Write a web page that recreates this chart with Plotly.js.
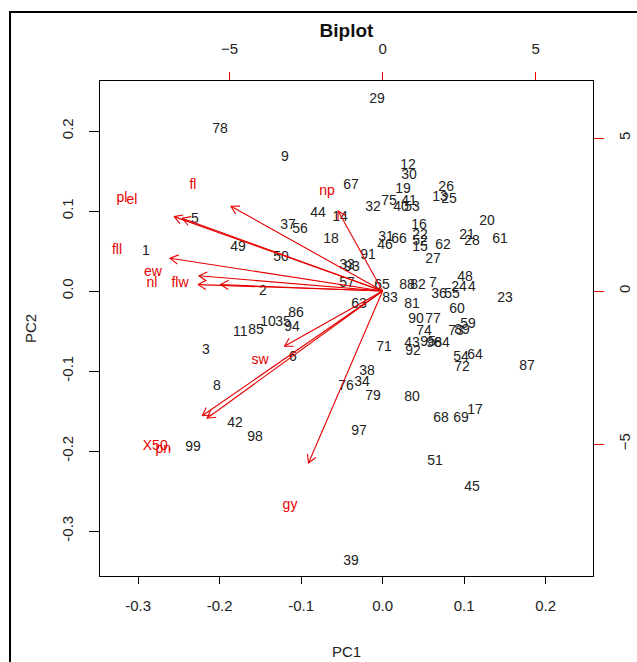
<!DOCTYPE html>
<html>
<head>
<meta charset="utf-8">
<script src="https://cdn.plot.ly/plotly-3.0.1.min.js"></script>
<style>
  html, body { margin: 0; padding: 0; background: #fff; }
  #frame { position: absolute; left: 9px; top: 11px; width: 700px; height: 700px; border: 2px solid #000; }
  #chart { position: absolute; left: 0; top: 0; width: 637px; height: 662px; }
</style>
</head>
<body>
<div id="frame"></div>
<div id="chart"></div>
<script>
// Observation scores (PC1, PC2) with their row labels
const obsLabels = ["29","78","9","12","30","67","19","26","13","25","32","75","41","40","53","44","14","37","56","18","20","16","31","66","22","52","46","15","62","21","28","61","27","49","50","1","91","33","93","57","65","83","63","2","88","82","7","48","24","4","36","55","23","81","60","90","77","74","59","73","89","71","43","95","96","84","92","54","64","72","87","38","34","76","79","80","17","68","69","97","51","45","39","42","98","99","3","8","11","85","10","35","86","94","6","5"];
const pc1 = [-0.0069,-0.1993,-0.1198,0.0312,0.0324,-0.0388,0.0250,0.0780,0.0704,0.0815,-0.0118,0.0079,0.0324,0.0226,0.0361,-0.0793,-0.0523,-0.1161,-0.1013,-0.0633,0.1281,0.0447,0.0042,0.0201,0.0459,0.0459,0.0029,0.0459,0.0741,0.1036,0.1097,0.1440,0.0618,-0.1774,-0.1247,-0.2903,-0.0179,-0.0437,-0.0375,-0.0437,-0.0007,0.0091,-0.0290,-0.1467,0.0299,0.0434,0.0618,0.1011,0.0937,0.1097,0.0692,0.0852,0.1502,0.0361,0.0913,0.0410,0.0618,0.0508,0.1048,0.0901,0.0974,0.0017,0.0361,0.0557,0.0631,0.0729,0.0373,0.0962,0.1134,0.0974,0.1772,-0.0191,-0.0253,-0.0449,-0.0118,0.0361,0.1134,0.0717,0.0962,-0.0290,0.0643,0.1097,-0.0388,-0.1811,-0.1566,-0.2326,-0.2167,-0.2032,-0.1747,-0.1553,-0.1406,-0.1222,-0.1063,-0.1112,-0.1099,-0.2302];
const pc2 = [0.2388,0.2025,0.1663,0.1563,0.1450,0.1313,0.1263,0.1300,0.1163,0.1138,0.1038,0.1113,0.1113,0.1038,0.1038,0.0963,0.0925,0.0813,0.0763,0.0650,0.0875,0.0825,0.0675,0.0638,0.0700,0.0625,0.0563,0.0550,0.0575,0.0700,0.0613,0.0638,0.0400,0.0538,0.0425,0.0488,0.0450,0.0313,0.0300,0.0088,0.0063,-0.0088,-0.0163,0.0000,0.0063,0.0063,0.0088,0.0175,0.0038,0.0050,-0.0038,-0.0038,-0.0088,-0.0163,-0.0225,-0.0350,-0.0350,-0.0500,-0.0413,-0.0500,-0.0488,-0.0700,-0.0650,-0.0638,-0.0650,-0.0650,-0.0750,-0.0825,-0.0800,-0.0950,-0.0938,-0.1000,-0.1138,-0.1188,-0.1313,-0.1325,-0.1488,-0.1588,-0.1588,-0.1750,-0.2125,-0.2450,-0.3375,-0.1650,-0.1825,-0.1950,-0.0738,-0.1188,-0.0513,-0.0488,-0.0388,-0.0388,-0.0275,-0.0450,-0.0825,0.0888];

// Variable loadings (secondary axes)
const varLabels = ["fl","pl","el","np","fll","ew","nl","flw","sw","X50.","pn","gy"];
const load1 = [-6.196,-8.516,-8.190,-1.817,-8.680,-7.503,-7.536,-6.621,-4.007,-7.366,-7.170,-3.026];
const load2 = [3.464,3.039,2.974,3.268,1.340,0.621,0.261,0.261,-2.255,-5.098,-5.196,-7.026];

// Axis ticks
const pcTicks = [-0.3,-0.2,-0.1,0.0,0.1,0.2];
const pcTickText = ["-0.3","-0.2","-0.1","0.0","0.1","0.2"];
const pc2Ticks = [-0.3,-0.2,-0.1,0.0,0.1,0.2];
const pc2TickText = ["-0.3","-0.2","-0.1","0.0","0.1","0.2"];
const loadTicks = [-5,0,5];

const FONT = "Liberation Sans, Arial, sans-serif";
const RED = "#e60000";

// arrows (R biplot draws to 0.8 * loading, label at loading)
const ax = [], ay = [];
const HEAD = 0.3, ANG = Math.PI / 6;
for (let i = 0; i < load1.length; i++) {
  const tx = 0.8 * load1[i], ty = 0.8 * load2[i];
  const len = Math.hypot(tx, ty);
  const bx = -tx / len, by = -ty / len;
  const h = [];
  for (const s of [1, -1]) {
    const c = Math.cos(s * ANG), sn = Math.sin(s * ANG);
    h.push([tx + HEAD * (bx * c - by * sn), ty + HEAD * (bx * sn + by * c)]);
  }
  ax.push(0, tx, null, h[0][0], tx, h[1][0], null);
  ay.push(0, ty, null, h[0][1], ty, h[1][1], null);
}

const traces = [
  {
    type: "scatter", mode: "text", x: pc1, y: pc2, text: obsLabels,
    textposition: "middle center", xaxis: "x", yaxis: "y",
    textfont: { family: FONT, size: 14, color: "#222" },
    hoverinfo: "text", showlegend: false
  },
  {
    type: "scatter", mode: "lines", x: ax, y: ay, xaxis: "x2", yaxis: "y2",
    line: { color: RED, width: 1.1 }, hoverinfo: "skip", showlegend: false
  },
  {
    type: "scatter", mode: "text", x: load1, y: load2, text: varLabels,
    textposition: "middle center", xaxis: "x2", yaxis: "y2",
    textfont: { family: FONT, size: 14, color: RED },
    hoverinfo: "text", showlegend: false
  }
];

const layout = {
  width: 637, height: 662,
  margin: { l: 100, r: 44, t: 81, b: 86 },
  paper_bgcolor: "rgba(0,0,0,0)", plot_bgcolor: "#fff",
  font: { family: FONT, size: 15, color: "#222" },
  title: {
    text: "<b>Biplot</b>", font: { family: FONT, size: 19, color: "#111" },
    x: 0.5, xref: "paper", y: 1 - 30 / 662, yref: "container", yanchor: "middle"
  },
  xaxis: {
    range: [-0.3467, 0.2582], tickvals: pcTicks, ticktext: pcTickText,
    ticks: "outside", ticklen: 7, tickcolor: "#000", tickwidth: 1,
    showline: true, mirror: true, linecolor: "#000", linewidth: 1,
    showgrid: false, zeroline: false, ticklabelstandoff: 9,
    tickfont: { family: FONT, size: 15, color: "#222" },
    title: { text: "PC1", font: { family: FONT, size: 15, color: "#222" }, standoff: 33 }
  },
  yaxis: {
    range: [-0.35625, 0.2625], tickvals: pc2Ticks, ticktext: pc2TickText, tickangle: -90,
    ticks: "outside", ticklen: 10, tickcolor: "#000", tickwidth: 1,
    showline: true, mirror: true, linecolor: "#000", linewidth: 1,
    showgrid: false, zeroline: false, ticklabelstandoff: 10,
    tickfont: { family: FONT, size: 15, color: "#222" },
    title: { text: "PC2", font: { family: FONT, size: 15, color: "#222" }, standoff: 18 }
  },
  xaxis2: {
    overlaying: "x", side: "top", anchor: "y", range: [-9.235, 6.876], tickvals: loadTicks,
    ticks: "outside", ticklen: 8, tickcolor: RED, tickwidth: 1,
    showline: false, showgrid: false, zeroline: false, ticklabelstandoff: 12,
    tickfont: { family: FONT, size: 15, color: "#222" }
  },
  yaxis2: {
    overlaying: "y", side: "right", anchor: "x", range: [-9.314, 6.863], tickvals: loadTicks, tickangle: -90,
    ticks: "outside", ticklen: 10, tickcolor: RED, tickwidth: 1,
    showline: false, showgrid: false, zeroline: false, ticklabelstandoff: 8,
    tickfont: { family: FONT, size: 15, color: "#222" }
  }
};

Plotly.newPlot("chart", traces, layout, { displayModeBar: false, staticPlot: true });
</script>
</body>
</html>
